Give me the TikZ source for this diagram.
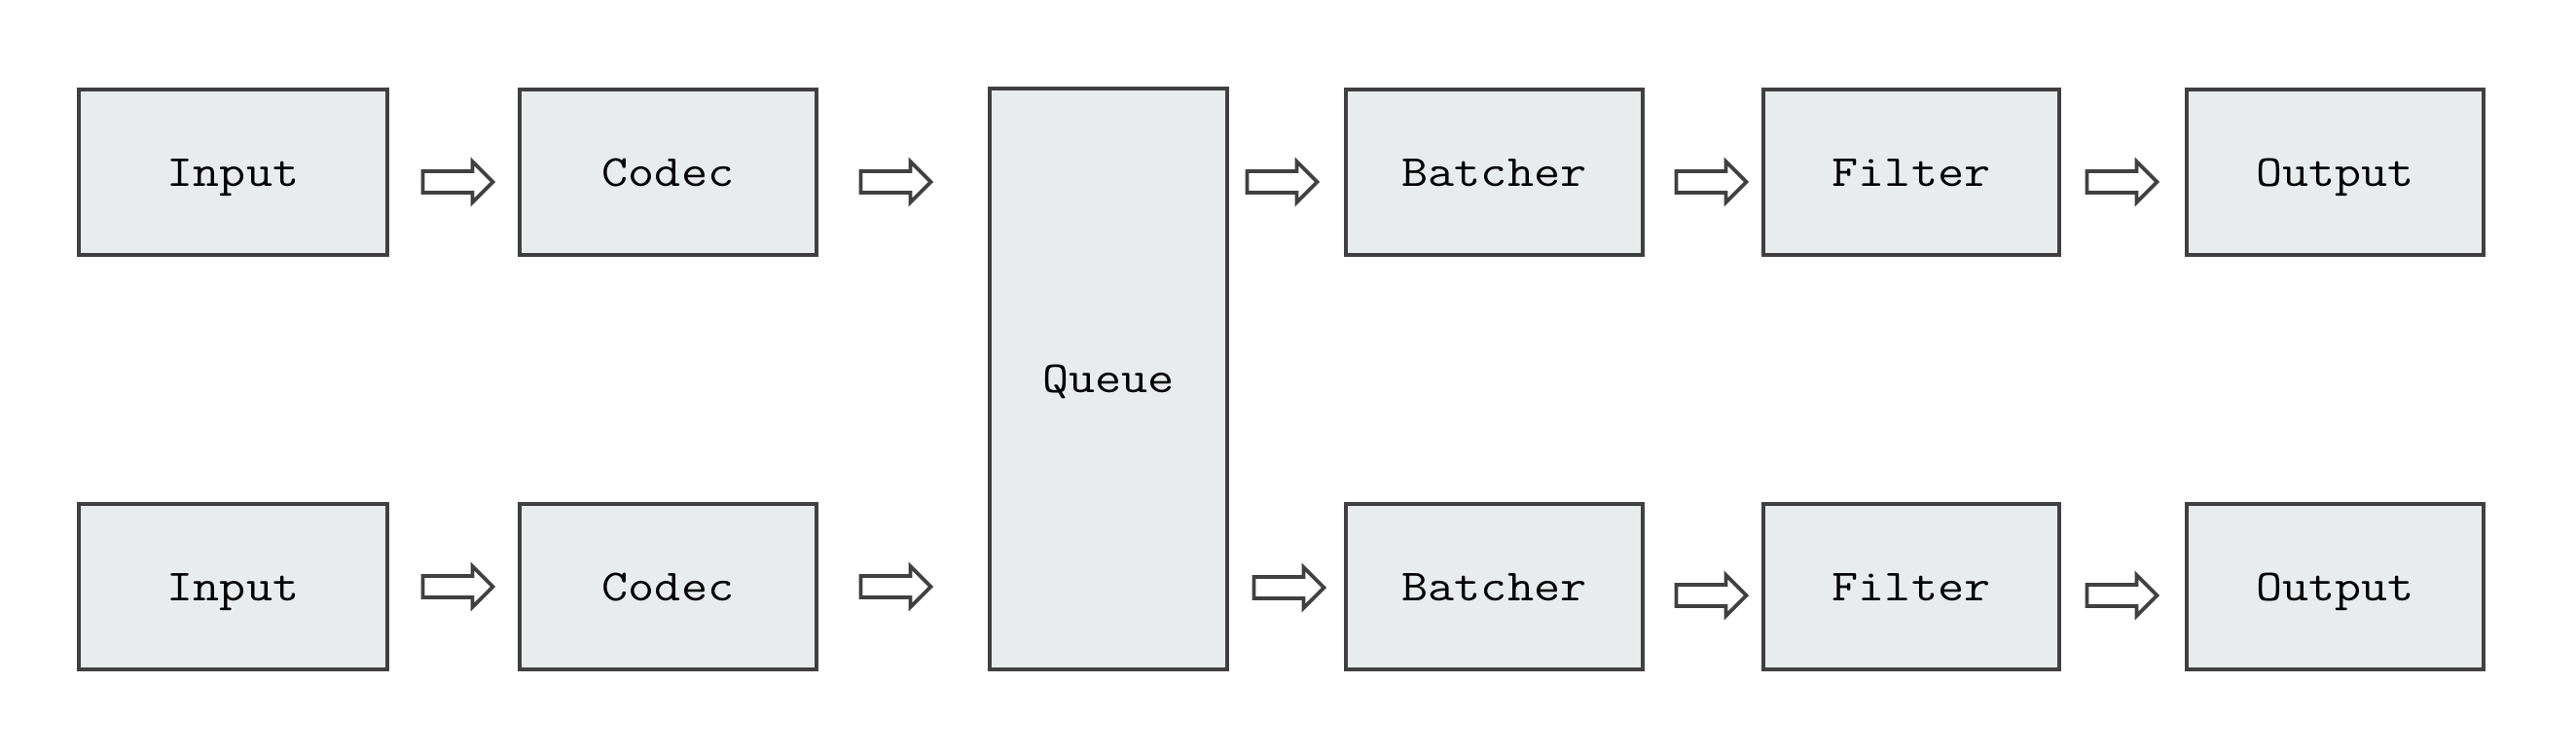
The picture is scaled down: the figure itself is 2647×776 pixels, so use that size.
\documentclass[tikz,border=0pt]{standalone}
\usepackage{fontspec}
\newfontfamily\stagefont[FakeStretch=1.15]{Latin Modern Mono}
\usetikzlibrary{shapes.arrows}
\definecolor{boxfill}{RGB}{233,236,236}
\definecolor{boxline}{RGB}{64,64,64}
\tikzset{
  stage/.style={draw=boxline, fill=boxfill, line width=1.1pt, rectangle,
    inner sep=0pt, minimum height=1.7cm, text height=0.38cm, text depth=0.1cm,
    font=\stagefont\fontsize{13}{15}\selectfont},
  flow/.style={draw=boxline, fill=white, line width=1.1pt, single arrow,
    single arrow head extend=0.1cm, single arrow tip angle=90,
    minimum height=0.72cm, inner xsep=0pt, inner ysep=0.09cm}
}

\begin{document}
\begin{tikzpicture}[x=0.01cm,y=-0.01cm]
\useasboundingbox (0,0) rectangle (2647,776);
% top row
\node[stage, minimum width=3.17cm] (in1) at (239.5,177) {Input};
\node[stage, minimum width=3.05cm] (co1) at (686.5,177) {Codec};
\node[stage, minimum width=3.05cm] (ba1) at (1535.5,177) {Batcher};
\node[stage, minimum width=3.04cm] (fi1) at (1964,177) {Filter};
\node[stage, minimum width=3.05cm] (ou1) at (2399.5,177) {Output};
% bottom row
\node[stage, minimum width=3.17cm] (in2) at (239.5,603) {Input};
\node[stage, minimum width=3.05cm] (co2) at (686.5,603) {Codec};
\node[stage, minimum width=3.05cm] (ba2) at (1535.5,603) {Batcher};
\node[stage, minimum width=3.04cm] (fi2) at (1964,603) {Filter};
\node[stage, minimum width=3.05cm] (ou2) at (2399.5,603) {Output};
% shared queue
\node[stage, minimum width=2.44cm, minimum height=5.97cm] (qu) at (1139,389.5) {Queue};
% arrows
\node[flow] (f11) at (465,187) {};
\node[flow] (f12) at (915,187) {};
\node[flow] (f13) at (1312,187) {};
\node[flow] (f14) at (1753,187) {};
\node[flow] (f15) at (2175,187) {};
\node[flow] (f21) at (465,603) {};
\node[flow] (f22) at (915,603) {};
\node[flow] (f23) at (1319,604) {};
\node[flow] (f24) at (1753,612) {};
\node[flow] (f25) at (2175,612) {};
\end{tikzpicture}
\end{document}
